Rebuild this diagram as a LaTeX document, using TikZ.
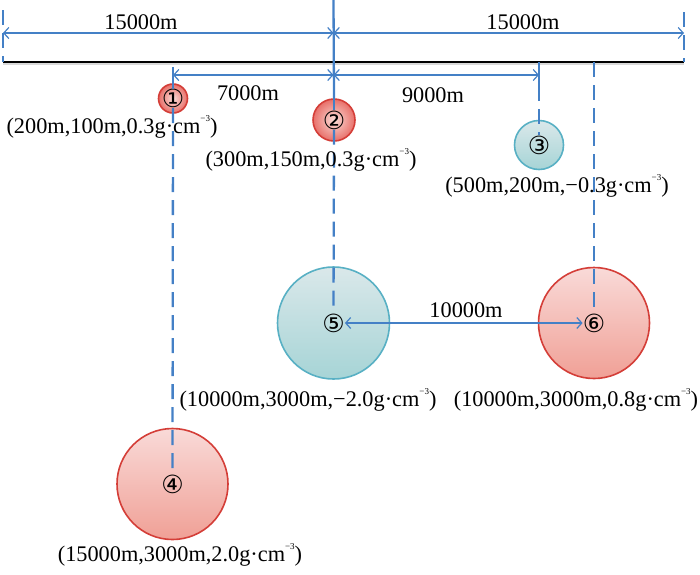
\documentclass[tikz,border=0pt]{standalone}
\usepackage{fontspec}
\setmainfont{Liberation Serif}
\newfontfamily\circfont{DejaVu Sans}
\usetikzlibrary{arrows.meta}
\definecolor{lblue}{RGB}{68,128,198}
\definecolor{redb}{RGB}{212,62,56}
\definecolor{pinktop}{RGB}{249,218,216}
\definecolor{pinkbot}{RGB}{240,160,150}
\definecolor{cyanb}{RGB}{88,176,196}
\definecolor{cyantop}{RGB}{218,232,234}
\definecolor{cyanbot}{RGB}{166,212,214}
\definecolor{redin}{RGB}{250,220,215}
\definecolor{redout}{RGB}{232,112,106}
\newcommand\cmthree{\raisebox{0.55em}{\fontsize{9}{9}\selectfont −3}}
\begin{document}
\begin{tikzpicture}[x=1pt,y=-1pt,
  bigred/.style={circle, draw=redb, line width=1.6pt, top color=pinktop, bottom color=pinkbot, inner sep=0pt, minimum size=#1},
  bigcyan/.style={circle, draw=cyanb, line width=1.6pt, top color=cyantop, bottom color=cyanbot, inner sep=0pt, minimum size=#1},
  smallred/.style={circle, draw=redb, line width=1.6pt, inner color=redin, outer color=redout, inner sep=0pt, minimum size=#1},
  dim/.style={draw=lblue, line width=1.2pt, {Straight Barb[length=5pt,width=11pt]}-{Straight Barb[length=5pt,width=11pt]}},
  guide/.style={draw=lblue, line width=2.3pt},
  guidedash/.style={guide, dash pattern=on 15pt off 8pt},
  lab/.style={font=\fontsize{22.3}{25}\selectfont, inner sep=0pt},
  num/.style={font=\circfont\fontsize{25}{26}\selectfont, inner sep=0pt}]
\useasboundingbox (0,0) rectangle (700,574);

% circles
\node[smallred=29pt] (c1) at (173,98.5) {};
\node[smallred=42pt] (c2) at (334,120) {};
\node[bigcyan=49pt] (c3) at (539,145) {};
\node[bigred=111pt] (c4) at (172.5,484) {};
\node[bigcyan=112pt] (c5) at (333.5,323) {};
\node[bigred=111pt] (c6) at (594,323) {};

% numbers
\node[num] (d1) at (c1.center) {①};
\node[num] (d2) at (c2.center) {②};
\node[num] (d3) at (c3.center) {③};
\node[num] (d4) at (c4.center) {④};
\node[num] (d5) at (c5.center) {⑤};
\node[num] (d6) at (c6.center) {⑥};

% ground line
\coordinate (gl) at (3,62);
\coordinate (gr) at (684,62);
\draw[gray!30, line width=2.5pt] ([yshift=-2pt]gl) -- ([yshift=-2pt]gr);
\draw[black, line width=2.4pt] (gl) -- (gr);

% coordinates
\coordinate (tl) at (3,10);
\coordinate (tr) at (684,12);
\coordinate (ttop) at (333.5,0);
\coordinate (al) at (3,33);
\coordinate (am) at (333.5,33);
\coordinate (ar) at (684,33);
\coordinate (bl) at (173,75);
\coordinate (bm) at (333.5,75);
\coordinate (br) at (539,75);
\coordinate (t1) at (173,67);
\coordinate (t3) at (539,62);
\coordinate (k3) at (539,86);
\coordinate (t6) at (594,62);

% guides
\draw[guidedash] (tl) -- (gl);
\draw[guidedash] (tr) -- (gr);
\draw[guide] (ttop) -- (c2.north);
\draw[guide] (c2.north) -- (d2.north);
\draw[guidedash] (d2.south) -- (d5.north);
\draw[guide] (t1) -- (d1.north);
\draw[guidedash] (d1.south) -- (d4.north);
\draw[guide] (t3) -- (k3);
\draw[guidedash] (k3) -- (d3.north);
\draw[guidedash] (t6) -- (d6.north);

% dimension arrows
\draw[dim] (al) -- (am);
\draw[dim] (am) -- (ar);
\draw[dim] (bl) -- (bm);
\draw[dim] (bm) -- (br);
\draw[dim] (d5.east) -- (d6.west);

% labels
\node[lab] (l15a) at (141,22) {15000m};
\node[lab] (l15b) at (523,22) {15000m};
\node[lab] (l7) at (248,93) {7000m};
\node[lab] (l9) at (433,95) {9000m};
\node[lab] (l10) at (466,310) {10000m};
\node[lab] (p1) at (112,127) {(200m,100m,0.3g·cm\cmthree)};
\node[lab] (p2) at (311,160) {(300m,150m,0.3g·cm\cmthree)};
\node[lab] (p3) at (557,186) {(500m,200m,−0.3g·cm\cmthree)};
\node[lab] (p5) at (308,400) {(10000m,3000m,−2.0g·cm\cmthree)};
\node[lab] (p6) at (576,400) {(10000m,3000m,0.8g·cm\cmthree)};
\node[lab] (p4) at (180,555) {(15000m,3000m,2.0g·cm\cmthree)};
\end{tikzpicture}
\end{document}
